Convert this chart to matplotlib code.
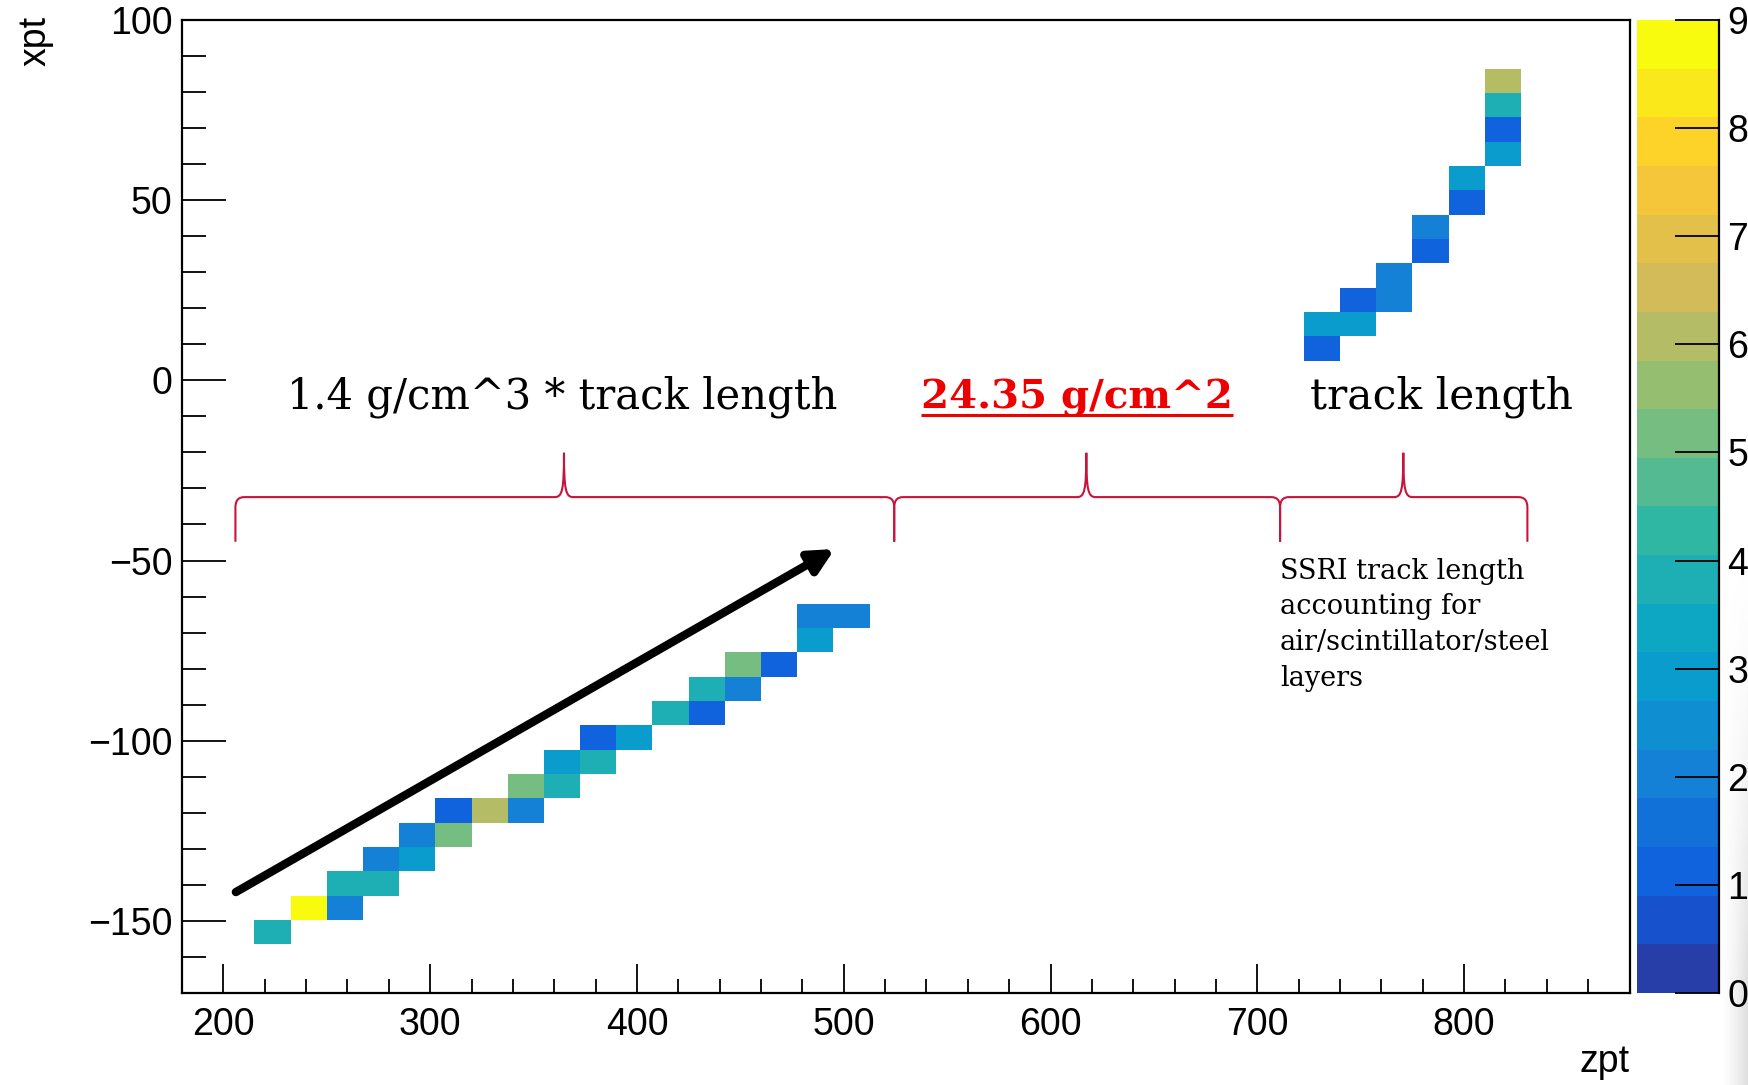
import numpy as np
import matplotlib
matplotlib.use('Agg')
from matplotlib import pyplot as plt
from matplotlib.colors import LinearSegmentedColormap, ListedColormap, BoundaryNorm
from matplotlib.path import Path
from matplotlib.patches import PathPatch
from matplotlib.ticker import MultipleLocator

plt.rcParams['font.family'] = ['Liberation Sans', 'DejaVu Sans']

# hit positions (bin centres) and counts
zpt = [223.75, 241.25, 258.75, 258.75, 276.25, 276.25, 293.75, 293.75, 311.25,
       311.25, 328.75, 346.25, 346.25, 363.75, 363.75, 381.25, 381.25, 398.75,
       416.25, 433.75, 433.75, 451.25, 451.25, 468.75, 486.25, 486.25, 503.75,
       731.25, 731.25, 748.75, 748.75, 766.25, 766.25, 783.75, 783.75, 801.25,
       801.25, 818.75, 818.75, 818.75, 818.75]
xpt = [-153.125, -146.375, -146.375, -139.625, -139.625, -132.875, -132.875,
       -126.125, -126.125, -119.375, -119.375, -119.375, -112.625, -112.625,
       -105.875, -105.875, -99.125, -99.125, -92.375, -92.375, -85.625, -85.625,
       -78.875, -78.875, -72.125, -65.375, -65.375,
       8.875, 15.625, 15.625, 22.375, 22.375, 29.125, 35.875, 42.625, 49.375,
       56.125, 62.875, 69.625, 76.375, 83.125]
counts = [4, 9, 2, 4, 4, 2, 3, 2, 5, 1, 6, 2, 5, 4, 3, 4, 1, 3, 4, 1, 4, 2, 5, 1,
          3, 2, 2,
          1, 3, 3, 1, 2, 2, 1, 2, 1, 3, 3, 1, 4, 6]

# histogram binning (TH2 40 x 40)
z_edges = np.linspace(180, 880, 41)
x_edges = np.linspace(-170, 100, 41)
z_levels = np.linspace(0, 9, 21)
cbar_ticks = list(range(10))

# ROOT kBird palette, 20 contour bands
stops = [0.0, 0.125, 0.25, 0.375, 0.5, 0.625, 0.75, 0.875, 1.0]
red = [0.2082, 0.0592, 0.0780, 0.0232, 0.1802, 0.5301, 0.8186, 0.9956, 0.9764]
green = [0.1664, 0.3599, 0.5041, 0.6419, 0.7178, 0.7492, 0.7328, 0.7862, 0.9832]
blue = [0.5293, 0.8684, 0.8385, 0.7914, 0.6425, 0.4662, 0.3499, 0.1968, 0.0539]
bird = LinearSegmentedColormap.from_list('bird', list(zip(stops, zip(red, green, blue))))
nband = len(z_levels) - 1
band_colors = [bird(int((i + 0.99) * 255 / nband) / 254.0) for i in range(nband)]
cmap = ListedColormap(band_colors)
norm = BoundaryNorm(z_levels, cmap.N)

fig = plt.figure(figsize=(17.49, 10.85), dpi=100)
ax = fig.add_axes([0.1041, 0.0848, 0.9317 - 0.1041, 0.9816 - 0.0848])
cax = fig.add_axes([0.9358, 0.0848, 0.9828 - 0.9358, 0.9816 - 0.0848])

# light window shadow at the right edge of the screenshot
sax = fig.add_axes([1720 / 1749, 0.0, 29 / 1749, 0.5], zorder=-5)
gx = np.linspace(0, 1, 30)[None, :]
gy = np.linspace(0, 1, 80)[:, None]
shade = np.zeros((80, 30, 4))
shade[..., :3] = 0.55
shade[..., 3] = 0.3 * gx ** 1.5 * np.clip(gy * 1.2, 0, 1) ** 1.5
sax.imshow(shade, aspect='auto', extent=[0, 1, 0, 1])
sax.axis('off')

h = ax.hist2d(zpt, xpt, bins=[z_edges, x_edges], weights=counts, cmap=cmap, norm=norm, cmin=0.5)

ax.set_xlim(180, 880)
ax.set_ylim(-170, 100)
ax.xaxis.set_major_locator(MultipleLocator(100))
ax.xaxis.set_minor_locator(MultipleLocator(20))
ax.yaxis.set_major_locator(MultipleLocator(50))
ax.yaxis.set_minor_locator(MultipleLocator(10))
ax.tick_params(axis='both', which='both', direction='in', top=False, right=False, labelsize=27, width=1.3)
ax.tick_params(axis='x', which='major', length=21, pad=10)
ax.tick_params(axis='x', which='minor', length=10)
ax.tick_params(axis='y', which='major', length=32, pad=7)
ax.tick_params(axis='y', which='minor', length=17)
for sp in ax.spines.values():
    sp.set_linewidth(1.6)

fig.text(36 / 1749, 1 - 16 / 1085, 'xpt', rotation=90, ha='center', va='top', fontsize=27)
fig.text(1630 / 1749, 1 - 1080 / 1085, 'zpt', ha='right', va='bottom', fontsize=27)

# palette axis
cb = fig.colorbar(h[3], cax=cax, ticks=cbar_ticks)
cb.outline.set_visible(False)
cax.plot([1, 1], [0, 1], transform=cax.transAxes, color='black', lw=1.6, clip_on=False)
cax.tick_params(direction='in', length=32, width=1.3, labelsize=27, pad=6)
cax.minorticks_off()

# annotations
serif = ['DejaVu Serif']
ax.text(364, -7.7, '1.4 g/cm^3 * track length', ha='center', va='baseline',
        fontsize=30, family=serif)
red_txt = ax.text(612.7, -7.7, '24.35 g/cm^2', ha='center', va='baseline',
                  fontsize=29, family=serif, fontweight='bold', color='#ee0000')
ax.text(789, -7.7, 'track length', ha='center', va='baseline', fontsize=30.5, family=serif)
ax.text(711, -49.2, 'SSRI track length\naccounting for\nair/scintillator/steel\nlayers',
        ha='left', va='top', fontsize=19.5, family=serif, linespacing=1.42)

# underline of the red label
fig.canvas.draw()
bb = red_txt.get_window_extent(fig.canvas.get_renderer())
inv = ax.transData.inverted()
base_px = ax.transData.transform((612.7, -7.7))[1]
(ux0, uy), (ux1, _) = inv.transform([(bb.x0, base_px - 7), (bb.x1, base_px - 7)])
ax.plot([ux0, ux1], [uy, uy], color='#ee0000', lw=2.2, solid_capstyle='butt')


def brace(x0, xm, x1, y_tip=-44.8, y_line=-32.4, y_peak=-20.1, rx=4.5, ry=3.0):
    verts = [(x0, y_tip), (x0, y_line - ry),
             (x0, y_line - ry * 0.3), (x0 + rx * 0.3, y_line), (x0 + rx, y_line),
             (xm - rx, y_line),
             (xm - rx * 0.2, y_line), (xm, y_line + ry * 0.6), (xm, y_peak),
             (xm, y_line + ry * 0.6), (xm + rx * 0.2, y_line), (xm + rx, y_line),
             (x1 - rx, y_line),
             (x1 - rx * 0.3, y_line), (x1, y_line - ry * 0.3), (x1, y_line - ry),
             (x1, y_tip)]
    codes = [Path.MOVETO, Path.LINETO,
             Path.CURVE4, Path.CURVE4, Path.CURVE4,
             Path.LINETO,
             Path.CURVE4, Path.CURVE4, Path.CURVE4,
             Path.CURVE4, Path.CURVE4, Path.CURVE4,
             Path.LINETO,
             Path.CURVE4, Path.CURVE4, Path.CURVE4,
             Path.LINETO]
    ax.add_patch(PathPatch(Path(verts, codes), fill=False, edgecolor='#c8143c', lw=1.5))


brace(205.8, 364.7, 524.4)
brace(524.4, 617.3, 711.0)
brace(711.0, 770.6, 830.6)

# direction arrow
ax.annotate('', xy=(495.6, -46.8), xytext=(206, -142),
            arrowprops=dict(arrowstyle='-|>,head_length=0.4,head_width=0.2',
                            mutation_scale=36, lw=6, color='black', shrinkA=0, shrinkB=0))

fig.savefig('out.png', dpi=100)
